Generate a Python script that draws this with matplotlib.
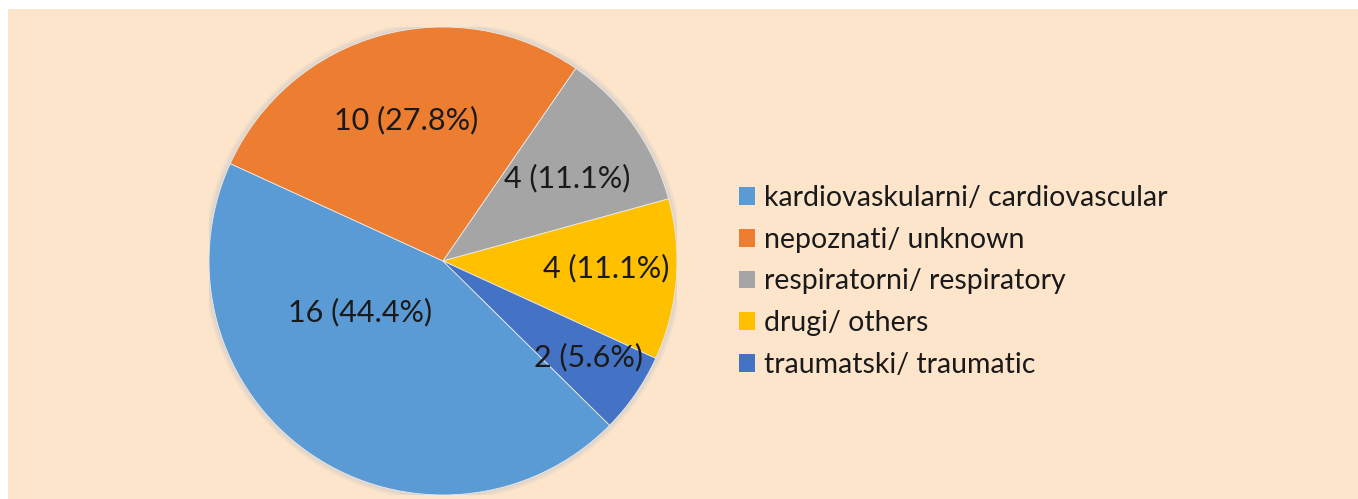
import matplotlib.pyplot as plt
import matplotlib.patches as mpatches
import numpy as np

plt.rcParams["font.family"] = ["Lato", "DejaVu Sans"]

categories = [
    "kardiovaskularni/ cardiovascular",
    "nepoznati/ unknown",
    "respiratorni/ respiratory",
    "drugi/ others",
    "traumatski/ traumatic",
]
counts = [16, 10, 4, 4, 2]
colors = ["#5B9BD5", "#ED7D31", "#A5A5A5", "#FFC000", "#4472C4"]

_bg = "#FDE5CC"
_text = "#1A1A1A"

# label placement inside the pie (radius units)
_label_xy = [(-0.355, -0.218), (-0.158, 0.603), (0.530, 0.355), (0.697, -0.030), (0.62, -0.41)]

fig = plt.figure(figsize=(13.58, 4.99), dpi=100)
fig.patch.set_facecolor("white")
fig.patches.append(
    mpatches.Rectangle((8 / 1358, 0), 1 - 8 / 1358, 1 - 9 / 499,
                       transform=fig.transFigure, facecolor=_bg, edgecolor="none", zorder=-5)
)

_cx, _cy, _r = 443, 261, 234
ax = fig.add_axes([(_cx - _r) / 1358, (499 - _cy - _r) / 499, 2 * _r / 1358, 2 * _r / 499])
ax.set_facecolor("none")
ax.set_zorder(2)

# soft glow around the pie
for k in range(6):
    ax.add_patch(mpatches.Circle((0, 0), 1.0 + 0.004 * (k + 1), facecolor="#C8C8C8",
                                 edgecolor="none", alpha=0.12, zorder=0))

wedges, _ = ax.pie(
    counts,
    colors=colors,
    startangle=-44.6,
    counterclock=False,
    radius=1.0,
    wedgeprops=dict(edgecolor="#EAEAEA", linewidth=0.6),
)

total = sum(counts)
for (x, y), n in zip(_label_xy, counts):
    ax.text(x, y, "{} ({:.1f}%)".format(n, n / total * 100), ha="center", va="center",
            fontsize=22, color=_text)

ax.set_xlim(-1.0, 1.0)
ax.set_ylim(-1.0, 1.0)
ax.set_aspect("equal")
ax.axis("off")

handles = [mpatches.Patch(facecolor=c, edgecolor="none") for c in colors]
leg = fig.legend(
    handles,
    categories,
    loc="center left",
    bbox_to_anchor=(739 / 1358, 1 - 281.5 / 499),
    frameon=False,
    fontsize=20.5,
    handlelength=0.57,
    handleheight=0.57,
    handletextpad=0.32,
    labelspacing=0.55,
    borderpad=0,
    borderaxespad=0,
)
for t in leg.get_texts():
    t.set_color(_text)

fig.savefig("out.png", dpi=100, facecolor=fig.get_facecolor())
